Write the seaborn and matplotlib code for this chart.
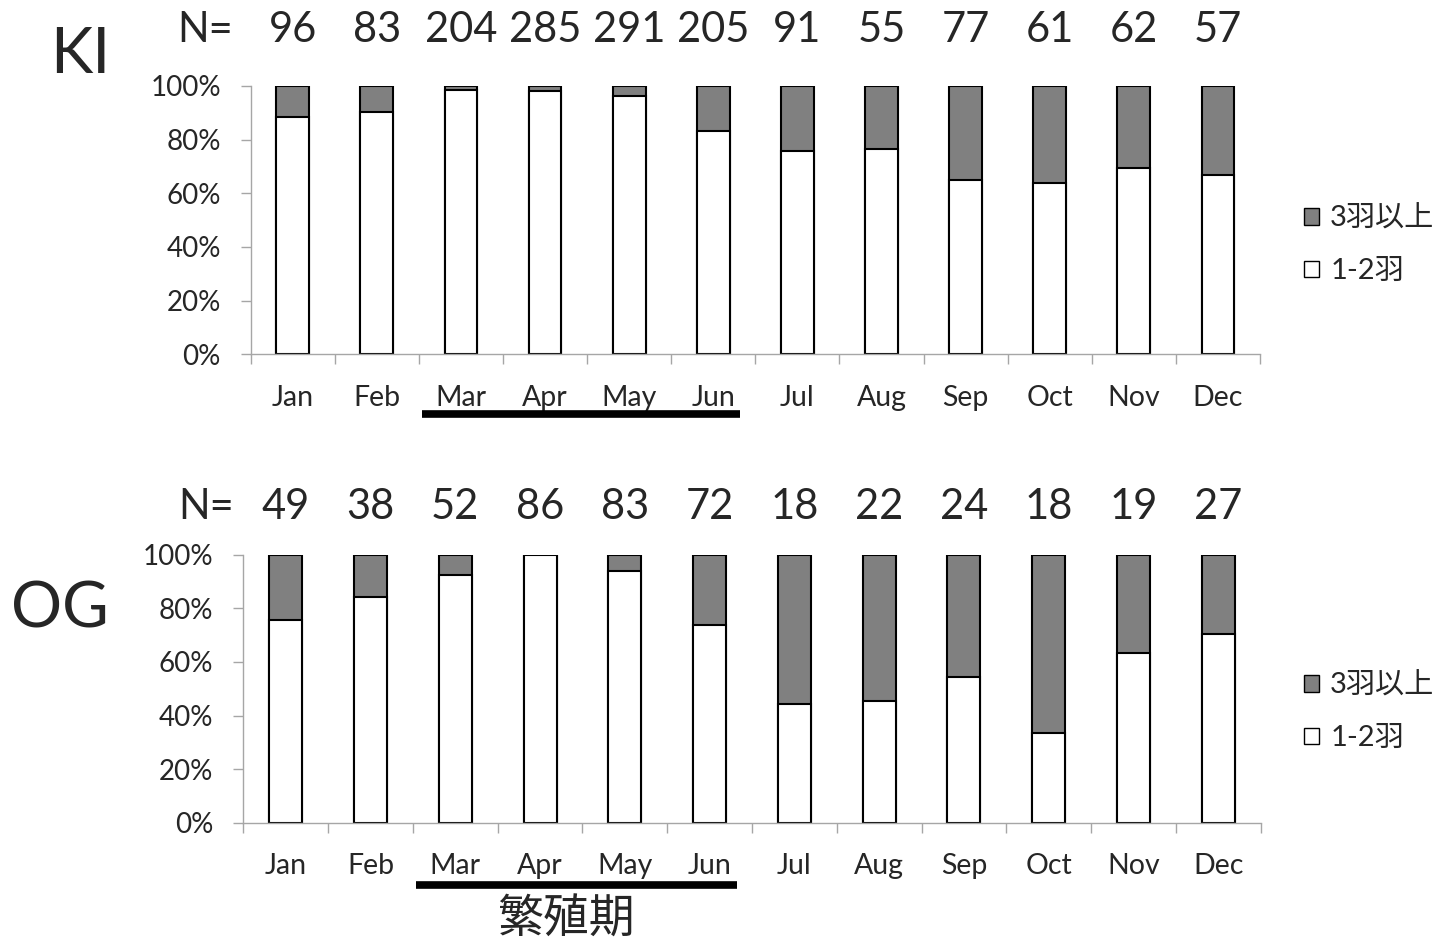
import matplotlib
matplotlib.use("Agg")
import matplotlib.pyplot as plt
import matplotlib.transforms as mtransforms
from matplotlib.patches import Patch
from matplotlib.ticker import FixedLocator, FuncFormatter
import seaborn as sns
import pandas as pd

# Months and sample sizes for each site
months = ["Jan", "Feb", "Mar", "Apr", "May", "Jun",
          "Jul", "Aug", "Sep", "Oct", "Nov", "Dec"]
ki_n = [96, 83, 204, 285, 291, 205, 91, 55, 77, 61, 62, 57]
og_n = [49, 38, 52, 86, 83, 72, 18, 22, 24, 18, 19, 27]

# Share of flocks with 1-2 birds (%); the remainder is 3 or more birds
ki_small = [88.5, 90.4, 98.5, 98.2, 96.2, 83.4, 75.8, 76.4, 64.9, 63.9, 69.4, 66.7]
og_small = [75.5, 84.2, 92.3, 100.0, 94.0, 73.6, 44.4, 45.5, 54.2, 33.3, 63.2, 70.4]

label_large = "3羽以上"
label_small = "1-2羽"
breeding_label = "繁殖期"
breeding_months = ["Mar", "Jun"]

GRAY = "#808080"
AXIS_GRAY = "#a6a6a6"

sns.set_theme(style="white")
plt.rcParams["font.family"] = ["Lato", "Noto Sans CJK JP", "DejaVu Sans"]

W, H = 1449, 941
fig = plt.figure(figsize=(W / 100, H / 100), dpi=100)


def fx(px):
    return px / W


def fy(py):
    return 1 - py / H


ax_top = fig.add_axes([fx(250.7), fy(354.3), fx(1260) - fx(250.7), fy(86) - fy(354.3)])
ax_bot = fig.add_axes([fx(243.3), fy(822.7), fx(1260.7) - fx(243.3), fy(554.7) - fy(822.7)])


def draw_panel(ax, small, ns, n_offset, line_y):
    df = pd.DataFrame({"month": months, "small": small})
    df["total"] = 100.0
    # full-height bar for the 3+ share, white 1-2 share drawn over it
    sns.barplot(data=df, x="month", y="total", color=GRAY, saturation=1,
                width=0.39, edgecolor="black", linewidth=1.5, ax=ax, zorder=1)
    sns.barplot(data=df, x="month", y="small", color="white", saturation=1,
                width=0.39, edgecolor="black", linewidth=1.5, ax=ax, zorder=1)
    ax.set_xlim(-0.5, len(months) - 0.5)
    ax.set_ylim(0, 100)
    ax.set_xlabel("")
    ax.set_ylabel("")
    ax.set_yticks([0, 20, 40, 60, 80, 100])
    ax.yaxis.set_major_formatter(FuncFormatter(lambda v, p: f"{v:.0f}%"))
    ax.xaxis.set_minor_locator(FixedLocator([i - 0.5 for i in range(len(months) + 1)]))
    ax.tick_params(axis="x", which="major", length=0, pad=22, labelsize=20.5)
    ax.tick_params(axis="x", which="minor", length=7.5, width=1.0,
                   color=AXIS_GRAY, direction="out", bottom=True)
    ax.tick_params(axis="y", length=7.5, width=1.0, color=AXIS_GRAY,
                   direction="out", left=True, pad=14, labelsize=20)
    for side in ["top", "right"]:
        ax.spines[side].set_visible(False)
    for side in ["left", "bottom"]:
        ax.spines[side].set_color(AXIS_GRAY)
        ax.spines[side].set_linewidth(1.0)
        ax.spines[side].set_zorder(3)
    # sample sizes above each bar
    trans = mtransforms.blended_transform_factory(ax.transData, ax.transAxes)
    for i, n in enumerate(ns):
        ax.text(i, n_offset, str(n), transform=trans, ha="center", va="center",
                fontsize=30)
    # breeding-season underline below the month labels
    i0 = months.index(breeding_months[0])
    i1 = months.index(breeding_months[1])
    ax.plot([i0 - 0.46, i1 + 0.32], [line_y, line_y], transform=trans,
            color="black", linewidth=5.5, solid_capstyle="butt", clip_on=False)
    handles = [Patch(facecolor=GRAY, edgecolor="black", linewidth=1.0, label=label_large),
               Patch(facecolor="white", edgecolor="black", linewidth=1.0, label=label_small)]
    return handles


handles = draw_panel(ax_top, ki_small, ki_n, 1.21, -0.222)
draw_panel(ax_bot, og_small, og_n, 1.178, -0.234)

for center_y in (245, 712):
    fig.legend(handles=handles, loc="center left",
               bbox_to_anchor=(fx(1304), fy(center_y)), frameon=False,
               fontsize=21, handlelength=0.5, handleheight=0.5,
               handletextpad=0.4, labelspacing=0.9, borderpad=0, borderaxespad=0)

fig.text(fx(205), fy(30), "N=", ha="center", va="center", fontsize=30)
fig.text(fx(206), fy(507), "N=", ha="center", va="center", fontsize=30)
fig.text(fx(80), fy(55), "KI", ha="center", va="center", fontsize=46)
fig.text(fx(60), fy(610), "OG", ha="center", va="center", fontsize=46)
fig.text(fx(566), fy(919), breeding_label, ha="center", va="center", fontsize=33,
         family=["Noto Sans CJK JP"])

fig.savefig("out.png", dpi=100, facecolor="white")
